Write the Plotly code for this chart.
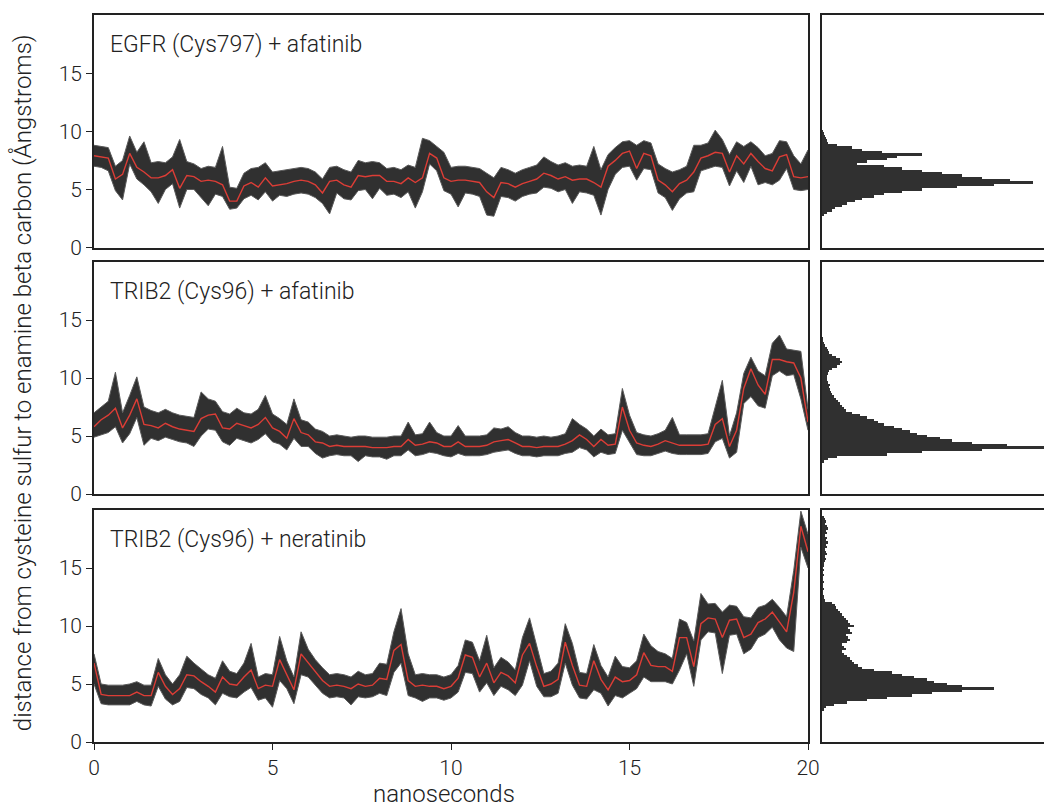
import numpy as np
import plotly.graph_objects as go
from plotly.subplots import make_subplots

# ---------------------------------------------------------------
# Cys S -> enamine C-beta distance (Angstrom) over a 20 ns MD run,
# sampled every 0.2 ns: running mean plus the lower/upper extent of
# the raw frames inside each sample window.
# ---------------------------------------------------------------
time_ns = np.linspace(0, 20, 101)

egfr_afatinib_mean = [
    7.9, 7.8, 7.7, 5.9, 6.3, 8.1, 6.9, 6.5, 6.0, 6.0,
    6.2, 6.7, 5.1, 6.2, 6.1, 5.7, 5.8, 5.7, 5.4, 4.0,
    4.0, 5.3, 5.6, 5.2, 6.0, 5.3, 5.4, 5.5, 5.7, 5.8,
    5.7, 5.4, 4.7, 5.7, 5.8, 5.4, 5.2, 6.2, 6.1, 6.2,
    6.2, 5.7, 5.7, 5.5, 6.0, 5.6, 6.0, 8.1, 7.7, 6.0,
    5.7, 5.8, 5.8, 5.7, 5.6, 4.8, 4.3, 5.6, 5.5, 5.2,
    5.5, 5.7, 5.9, 6.4, 6.2, 5.9, 6.1, 5.8, 5.9, 5.9,
    5.6, 5.2, 7.0, 7.5, 8.1, 8.3, 6.8, 8.1, 7.9, 5.8,
    5.4, 4.8, 5.5, 5.8, 6.5, 7.7, 7.9, 8.2, 8.1, 6.5,
    7.9, 7.2, 8.1, 7.4, 6.8, 6.6, 7.8, 8.0, 6.1, 6.0,
    6.1,
]
egfr_afatinib_high = [
    8.8, 8.7, 8.6, 7.0, 7.5, 9.6, 8.2, 9.1, 7.3, 7.4,
    7.3, 7.8, 9.3, 7.4, 7.2, 6.8, 7.0, 6.9, 8.7, 5.2,
    5.1, 6.4, 6.8, 6.9, 7.3, 6.5, 6.6, 6.7, 6.8, 6.9,
    6.8, 6.5, 5.9, 6.9, 7.0, 6.7, 6.5, 7.5, 7.3, 7.4,
    7.3, 6.8, 6.9, 6.7, 7.1, 6.9, 9.4, 9.2, 8.7, 8.2,
    6.9, 7.0, 7.0, 6.9, 6.8, 6.4, 6.0, 6.9, 6.7, 6.4,
    6.7, 6.9, 7.1, 7.8, 7.4, 7.1, 7.3, 7.0, 7.1, 7.0,
    8.7, 6.7, 8.0, 8.6, 9.1, 9.2, 8.8, 9.2, 9.0, 7.2,
    6.8, 6.5, 6.7, 7.0, 8.8, 8.8, 9.0, 10.1, 9.3, 8.0,
    9.1, 8.7, 9.1, 8.6, 7.9, 8.1, 9.2, 9.1, 7.9, 7.2,
    8.4,
]
egfr_afatinib_low = [
    7.0, 6.9, 6.6, 4.9, 4.1, 7.2, 5.9, 5.4, 4.8, 3.8,
    5.0, 5.5, 3.4, 5.0, 5.0, 4.3, 3.6, 4.6, 4.4, 3.3,
    3.4, 4.2, 4.5, 4.1, 4.8, 4.0, 4.5, 4.4, 4.6, 4.7,
    4.6, 4.3, 3.8, 2.9, 4.7, 4.2, 4.1, 4.9, 5.0, 4.2,
    5.1, 4.5, 4.6, 4.3, 4.8, 3.4, 4.8, 7.2, 6.6, 4.9,
    4.6, 3.5, 4.7, 4.6, 4.4, 2.8, 2.7, 4.4, 4.3, 4.0,
    4.4, 4.6, 4.7, 5.2, 5.1, 4.8, 5.0, 3.8, 4.8, 4.7,
    4.5, 2.8, 5.0, 6.3, 6.9, 7.0, 5.8, 6.8, 6.7, 4.7,
    4.3, 3.2, 4.2, 4.7, 4.8, 6.6, 6.8, 7.0, 6.9, 5.3,
    6.6, 5.6, 7.0, 5.4, 5.6, 5.4, 5.8, 6.8, 5.0, 4.9,
    5.0,
]

trib2_afatinib_mean = [
    5.8, 6.4, 6.8, 7.4, 5.7, 6.8, 8.2, 6.0, 5.9, 5.7,
    6.1, 5.8, 5.6, 5.5, 5.4, 6.5, 6.8, 6.9, 5.7, 5.6,
    6.1, 5.9, 5.7, 6.0, 6.6, 5.7, 5.4, 4.8, 6.5, 5.3,
    5.1, 4.5, 4.4, 4.1, 4.2, 4.1, 4.1, 4.1, 4.1, 4.0,
    4.0, 4.0, 4.1, 4.1, 4.7, 4.2, 4.3, 4.5, 4.4, 4.1,
    4.1, 4.5, 4.1, 4.1, 4.1, 4.2, 4.5, 4.6, 4.7, 4.4,
    4.1, 4.1, 4.0, 4.1, 4.1, 4.1, 4.3, 4.6, 5.1, 4.7,
    4.1, 4.7, 4.2, 4.3, 7.5, 5.5, 4.4, 4.2, 4.1, 4.3,
    4.6, 4.4, 4.2, 4.2, 4.2, 4.2, 4.3, 6.0, 6.5, 4.1,
    5.5, 9.1, 10.8, 9.4, 8.6, 11.6, 11.6, 11.4, 11.3, 10.0,
    6.2,
]
trib2_afatinib_high = [
    7.0, 7.5, 8.0, 10.5, 7.0, 8.5, 10.1, 7.5, 7.2, 7.0,
    7.3, 7.0, 6.8, 6.7, 6.6, 8.8, 8.2, 8.0, 7.1, 6.9,
    7.4, 7.0, 6.9, 7.3, 8.5, 6.9, 6.5, 6.0, 8.2, 6.4,
    6.2, 5.6, 5.4, 5.0, 5.1, 5.0, 4.9, 5.0, 5.0, 4.9,
    4.9, 4.9, 5.0, 5.0, 6.2, 5.1, 5.2, 6.2, 5.3, 5.0,
    5.0, 5.9, 5.0, 5.0, 5.0, 5.1, 5.7, 5.6, 5.8, 5.3,
    5.0, 5.0, 4.9, 5.0, 4.9, 5.0, 5.2, 6.5, 6.0, 5.6,
    5.0, 5.6, 5.1, 5.2, 9.1, 6.8, 5.3, 5.1, 5.0, 5.2,
    5.5, 6.6, 5.1, 5.1, 5.1, 5.1, 5.2, 7.5, 9.8, 5.0,
    7.0, 10.4, 11.8, 10.6, 10.2, 13.0, 13.7, 12.5, 12.4, 12.3,
    7.3,
]
trib2_afatinib_low = [
    4.9, 5.1, 5.3, 5.8, 4.4, 5.2, 6.6, 4.2, 4.8, 4.6,
    4.9, 4.7, 4.5, 4.4, 4.1, 5.0, 5.6, 5.5, 4.5, 4.2,
    4.8, 4.6, 4.4, 4.7, 5.2, 4.5, 4.3, 3.8, 4.8, 4.1,
    4.1, 3.5, 3.1, 3.3, 3.4, 3.3, 3.3, 2.8, 3.3, 3.2,
    3.2, 3.0, 3.3, 3.3, 3.8, 3.3, 3.4, 3.6, 3.5, 3.3,
    3.2, 3.5, 3.3, 3.3, 3.3, 3.4, 3.6, 3.7, 3.8, 3.5,
    3.3, 3.3, 3.2, 3.3, 3.3, 3.3, 3.5, 3.6, 4.0, 3.8,
    3.2, 3.6, 3.4, 3.5, 5.5, 4.4, 3.4, 3.3, 3.3, 3.5,
    3.7, 3.5, 3.4, 3.4, 3.4, 3.4, 3.5, 4.5, 4.8, 3.1,
    3.6, 7.8, 8.4, 7.6, 7.4, 10.2, 10.6, 10.2, 10.3, 8.2,
    5.5,
]

trib2_neratinib_mean = [
    6.8, 4.1, 4.0, 4.0, 4.0, 4.0, 4.3, 4.0, 4.0, 6.0,
    4.8, 4.1, 4.6, 5.8, 5.7, 5.2, 4.8, 4.3, 5.6, 5.0,
    4.9, 5.6, 6.2, 4.6, 4.9, 4.8, 7.1, 5.8, 4.5, 7.6,
    6.8, 6.0, 5.3, 4.8, 4.9, 4.8, 4.6, 5.0, 4.8, 4.9,
    5.5, 5.4, 7.9, 8.4, 5.3, 4.8, 4.9, 4.8, 4.8, 4.6,
    4.8, 5.5, 7.5, 7.3, 5.6, 6.8, 5.1, 6.0, 5.7, 5.1,
    7.5, 8.5, 6.5, 4.8, 5.0, 5.4, 8.6, 6.6, 4.9, 4.8,
    7.0, 5.4, 4.5, 5.6, 5.2, 5.3, 5.8, 7.7, 6.6, 6.5,
    6.5, 6.1, 9.0, 9.0, 6.5, 10.2, 10.7, 10.6, 9.0, 10.5,
    10.6, 9.0, 9.3, 10.3, 10.6, 11.2, 10.3, 9.5, 12.9, 18.6,
    16.4,
]
trib2_neratinib_high = [
    7.6, 5.0, 4.9, 4.9, 4.9, 5.0, 5.2, 4.9, 4.9, 7.2,
    5.8, 5.0, 5.8, 7.4, 6.8, 6.3, 5.8, 5.5, 7.0, 6.1,
    5.9, 6.8, 8.5, 5.6, 5.9, 5.8, 9.1, 7.0, 5.6, 9.5,
    8.0, 7.1, 6.4, 5.8, 5.9, 5.8, 5.6, 6.1, 5.8, 5.9,
    6.8, 6.7, 9.5, 11.5, 7.6, 5.8, 5.9, 5.8, 5.8, 5.6,
    5.8, 6.6, 8.8, 8.6, 7.0, 9.2, 6.4, 7.3, 6.9, 6.2,
    9.0, 10.7, 8.2, 5.9, 6.1, 6.8, 10.2, 8.5, 6.0, 5.9,
    8.4, 6.6, 5.6, 7.4, 6.5, 6.4, 7.0, 9.3, 8.3, 7.8,
    7.6, 7.2, 10.6, 10.3, 8.7, 12.8, 11.9, 11.95, 11.2, 11.8,
    11.7, 10.8, 10.7, 11.6, 11.8, 12.3, 11.6, 10.8, 14.8, 19.9,
    17.9,
]
trib2_neratinib_low = [
    5.0, 3.3, 3.2, 3.2, 3.2, 3.2, 3.5, 3.2, 3.1, 4.8,
    3.7, 3.2, 3.5, 4.7, 4.6, 4.1, 3.8, 3.2, 4.2, 3.9,
    3.8, 4.3, 4.7, 3.6, 3.8, 3.0, 5.3, 4.6, 3.3, 5.8,
    5.6, 4.9, 4.2, 3.8, 3.9, 3.8, 3.2, 3.9, 3.8, 3.9,
    4.2, 4.0, 6.0, 6.8, 4.0, 3.8, 3.5, 3.8, 3.8, 3.6,
    3.8, 4.3, 6.0, 5.9, 4.3, 5.1, 4.0, 4.8, 4.5, 4.0,
    4.9, 7.0, 4.8, 3.9, 3.9, 4.2, 6.8, 4.9, 3.8, 3.7,
    4.5, 4.2, 3.1, 4.0, 3.8, 4.2, 4.6, 5.6, 5.2, 5.2,
    5.2, 5.0, 6.2, 7.6, 4.8, 8.8, 9.5, 9.4, 5.9, 9.2,
    9.3, 7.6, 8.0, 9.0, 9.3, 9.9, 8.8, 8.1, 7.8, 16.8,
    15.0,
]

# Histograms of the same distances, 0.2 Angstrom bins (frame counts)
bin_width = 0.2
egfr_afatinib_counts = [
    2, 5, 10, 13, 20, 25, 33, 40, 52, 62,
    80, 100, 135, 172, 211, 188, 160, 140, 120, 100,
    80, 62, 35, 45, 65, 75, 100, 60, 40, 30,
    15, 6, 5, 4, 3, 2, 1,
]
trib2_afatinib_counts = [
    2, 6, 15, 65, 100, 160, 225, 185, 150, 130,
    118, 105, 95, 88, 80, 72, 62, 56, 52, 45,
    38, 30, 24, 22, 20, 18, 16, 14, 12, 10,
    9, 8, 7, 8, 6, 5, 5, 5, 6, 7,
    10, 15, 18, 20, 18, 14, 10, 7, 6, 5,
    3, 2, 1, 1,
]
trib2_neratinib_counts = [
    2, 4, 12, 25, 45, 65, 90, 110, 140, 172,
    140, 125, 112, 105, 92, 80, 70, 52, 40, 36,
    32, 30, 28, 25, 22, 20, 24, 22, 20, 25,
    28, 26, 24, 30, 28, 26, 32, 28, 26, 24,
    22, 20, 18, 16, 14, 13, 10, 3, 2, 2,
    1, 1, 2, 1, 1, 2, 1, 1, 2, 1,
    2, 1, 2, 2, 3, 4, 3, 5, 4, 3,
    5, 4, 6, 4, 5, 3, 5, 4, 6, 5,
    3, 4, 3, 2,
]
hist_start = 2.8

panel_titles = [
    "EGFR (Cys797) + afatinib",
    "TRIB2 (Cys96) + afatinib",
    "TRIB2 (Cys96) + neratinib",
]
x_ticks = [0, 5, 10, 15, 20]
y_ticks = [0, 5, 10, 15]

series = [
    (egfr_afatinib_mean, egfr_afatinib_high, egfr_afatinib_low, egfr_afatinib_counts),
    (trib2_afatinib_mean, trib2_afatinib_high, trib2_afatinib_low, trib2_afatinib_counts),
    (trib2_neratinib_mean, trib2_neratinib_high, trib2_neratinib_low, trib2_neratinib_counts),
]

FONT = "Roboto"
INK = "#222222"
TRACE = "#303030"
EDGE = "#5a5a5a"
RED = "#dc3d36"
TICK_SIZE = 21
TEXT_SIZE = 23

fig = make_subplots(rows=3, cols=2)

for i, (mean, high, low, counts) in enumerate(series):
    row = i + 1
    # raw-frame envelope
    fig.add_trace(go.Scatter(x=time_ns, y=low, mode="lines",
                             line=dict(color=EDGE, width=1.0),
                             hoverinfo="skip", showlegend=False), row=row, col=1)
    fig.add_trace(go.Scatter(x=time_ns, y=high, mode="lines", fill="tonexty",
                             fillcolor=TRACE, line=dict(color=EDGE, width=1.0),
                             hoverinfo="skip", showlegend=False), row=row, col=1)
    # running mean
    fig.add_trace(go.Scatter(x=time_ns, y=mean, mode="lines",
                             line=dict(color=RED, width=1.4),
                             showlegend=False), row=row, col=1)
    # distance histogram
    centers = np.round(hist_start + bin_width * np.arange(len(counts)), 2)
    fig.add_trace(go.Bar(x=counts, y=centers, orientation="h", width=bin_width,
                         marker=dict(color=TRACE, line=dict(width=0)),
                         showlegend=False), row=row, col=2)

y_domains = [[0.680, 1.0], [0.3411, 0.6602], [0.0, 0.3191]]
x_time_domain = [0.0, 0.7516]
x_hist_domain = [0.7663, 1.0]

axis_line = dict(showline=True, linecolor=INK, linewidth=1.6, showgrid=False,
                 zeroline=False, automargin=False)

for i in range(3):
    n_time = 2 * i + 1
    n_hist = 2 * i + 2
    sx = "" if n_time == 1 else str(n_time)
    last = i == 2
    fig.layout["xaxis" + sx].update(
        domain=x_time_domain, range=[0, 20], mirror=True,
        tickvals=x_ticks if last else [], ticks="outside" if last else "",
        ticklen=6, tickwidth=1.4, tickcolor=INK, showticklabels=last,
        tickfont=dict(family=FONT, size=TICK_SIZE, color=INK, weight=300), **axis_line)
    fig.layout["yaxis" + sx].update(
        domain=y_domains[i], range=[0, 20], mirror=True,
        tickvals=y_ticks, ticks="outside", ticklen=6, tickwidth=1.4, tickcolor=INK,
        tickfont=dict(family=FONT, size=TICK_SIZE, color=INK, weight=300), **axis_line)
    fig.layout["xaxis" + str(n_hist)].update(
        domain=x_hist_domain, range=[0, 222], mirror=True,
        showticklabels=False, ticks="", **axis_line)
    fig.layout["yaxis" + str(n_hist)].update(
        domain=y_domains[i], range=[0, 20], mirror=False,
        showticklabels=False, ticks="", **axis_line)
    fig.add_annotation(text=panel_titles[i], xref=("x" + sx + " domain"),
                       yref=("y" + sx + " domain"), x=0.02, y=0.875,
                       xanchor="left", yanchor="middle", showarrow=False,
                       font=dict(family=FONT, size=TEXT_SIZE, color=INK, weight=300))

fig.add_annotation(text="nanoseconds", xref="paper", yref="paper",
                   x=0.368, y=-0.071, xanchor="center", yanchor="middle",
                   showarrow=False,
                   font=dict(family=FONT, size=24, color=INK, weight=300))
fig.add_annotation(text="distance from cysteine sulfur to enamine beta carbon (Ångstroms)",
                   xref="paper", yref="paper", x=-0.0758, y=0.495,
                   xanchor="center", yanchor="middle", textangle=-90,
                   showarrow=False,
                   font=dict(family=FONT, size=24, color=INK, weight=300))

fig.update_layout(width=1044, height=808, autosize=False,
                  margin=dict(l=94, r=0, t=15, b=66, pad=0),
                  plot_bgcolor="white", paper_bgcolor="white",
                  bargap=0, showlegend=False)

fig.write_html("out.html", config={"responsive": False})
